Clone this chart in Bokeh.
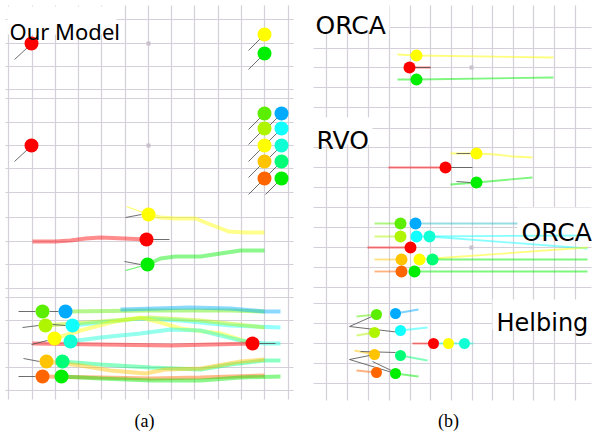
from bokeh.plotting import figure
from bokeh.models import Range1d
from bokeh.embed import file_html
from bokeh.resources import INLINE
from bokeh.core.properties import value

# ---------------- colours ----------------
RED, YELLOW, GREEN = "#ff0000", "#ffff00", "#00ee00"
LIME, YGREEN, AMBER, ORANGE = "#5cee00", "#b0f500", "#ffc300", "#ff6600"
BLUE, CYAN, AQUA, SPRING = "#00aaff", "#11ffff", "#11ffd5", "#00ff77"

# ---------------- grids (screen-like coordinates) ----------------
grid_a_x = [8, 32, 55, 78, 101, 125, 148, 171, 194, 218, 241, 264, 288]
grid_a_y = [19, 43, 66, 89, 98, 122, 145, 168, 192, 217, 241, 264, 288, 297, 320, 343, 367, 390]
grid_a_box = [5, 293, 5, 399]
grid_b_x = [326, 347, 368, 389, 410, 430, 451, 472, 492, 513, 533, 554, 575]
grid_b_y = [27, 48, 67, 87, 107, 128, 147, 167, 187, 207, 227, 247, 267, 287, 303, 323, 343, 363, 383]
grid_b_box = [313, 591, 5, 400]
center_dots_x = [148, 148, 471, 471]
center_dots_y = [43, 145, 67, 247]

# ---------------- agents ----------------
a1_x = [31, 264, 264]
a1_y = [43, 34, 53]
a1_c = [RED, YELLOW, GREEN]
a2_x = [31, 264, 264, 264, 264, 264, 281, 281, 281, 281, 281]
a2_y = [145, 113, 128, 145, 161, 178, 113, 128, 145, 161, 178]
a2_c = [RED, LIME, YGREEN, YELLOW, AMBER, ORANGE, BLUE, CYAN, AQUA, SPRING, GREEN]
a3_x = [148, 146, 147]
a3_y = [214, 239, 264]
a3_c = [YELLOW, RED, GREEN]
a4_x = [42, 65, 45, 72, 54, 70, 46, 62, 42, 61, 252]
a4_y = [311, 311, 325, 325, 338, 341, 361, 361, 376, 376, 343]
a4_c = [LIME, BLUE, YGREEN, CYAN, YELLOW, AQUA, AMBER, SPRING, ORANGE, GREEN, RED]

b1_x = [416, 409, 416]
b1_y = [55, 67, 79]
b1_c = [YELLOW, RED, GREEN]
b2_x = [476, 445, 476]
b2_y = [153, 167, 182]
b2_c = [YELLOW, RED, GREEN]
b3_x = [400, 415, 400, 416, 429, 410, 401, 419, 432, 401, 414]
b3_y = [223, 223, 236, 236, 236, 247, 259, 259, 259, 271, 271]
b3_c = [LIME, BLUE, YGREEN, CYAN, AQUA, RED, AMBER, YELLOW, SPRING, ORANGE, GREEN]
b4_x = [376, 395, 374, 400, 433, 448, 464, 374, 400, 376, 395]
b4_y = [314, 313, 332, 330, 343, 343, 343, 354, 355, 372, 373]
b4_c = [LIME, BLUE, YGREEN, CYAN, RED, YELLOW, AQUA, AMBER, SPRING, ORANGE, GREEN]

# ---------------- trajectories ----------------
a3_tr_x = [[32, 55, 70, 85, 100, 124, 146],
           [148, 160, 175, 195, 210, 228, 245, 264],
           [147, 160, 175, 200, 220, 240, 264]]
a3_tr_y = [[241, 241, 240, 238, 237, 238, 239],
           [214, 217, 218, 218, 224, 231, 232, 232],
           [264, 258, 256, 256, 253, 250, 250]]
a3_tr_c = [RED, YELLOW, GREEN]

a4_tr_x = [[65, 150, 230, 264], [120, 190, 230, 264, 280],
           [72, 100, 140, 180, 230, 280], [45, 100, 150, 200, 264],
           [54, 80, 110, 140, 160, 180, 220, 252],
           [70, 100, 140, 170, 200, 240, 264, 280], [32, 100, 170, 252],
           [62, 100, 150, 200, 230, 264, 280],
           [46, 80, 110, 145, 165, 200, 240, 264],
           [42, 100, 150, 200, 264], [61, 100, 150, 200, 240, 280]]
a4_tr_y = [[311, 310, 310, 311], [309, 307, 308, 311, 311],
           [325, 322, 318, 320, 325, 327], [325, 321, 317, 320, 327],
           [338, 330, 322, 317, 322, 328, 333, 343],
           [341, 337, 333, 329, 330, 340, 343, 343], [343, 344, 345, 343],
           [361, 364, 367, 369, 364, 360, 360],
           [361, 365, 370, 373, 369, 368, 361, 359],
           [376, 377, 378, 377, 375], [376, 378, 380, 380, 377, 376]]
a4_tr_c = [LIME, BLUE, CYAN, YGREEN, YELLOW, AQUA, RED, SPRING, AMBER, ORANGE, GREEN]

b_tr_x = [[397, 416, 553], [397, 416, 553], [409, 430],
          [388, 445], [450, 476, 495, 513, 532], [450, 476, 532],
          [374, 400], [415, 517], [374, 400], [416, 587], [429, 587],
          [367, 410], [374, 401], [419, 587], [432, 587], [374, 401], [414, 587],
          [356, 376], [395, 418], [356, 374], [400, 427], [412, 433], [433, 473],
          [354, 374], [400, 427], [356, 376], [395, 418]]
b_tr_y = [[54, 55, 57], [79, 79, 77], [67, 67],
          [167, 167], [153, 153, 154, 156, 157], [184, 182, 177],
          [223, 223], [223, 223], [236, 236], [236, 235], [236, 248],
          [247, 247], [259, 259], [259, 247], [259, 259], [271, 271], [271, 271],
          [316, 314], [313, 309], [335, 332], [330, 327], [343, 343], [343, 343],
          [350, 354], [355, 360], [370, 372], [373, 376]]
b_tr_c = [YELLOW, GREEN, RED,
          RED, YELLOW, GREEN,
          LIME, "#33bbcc", YGREEN, CYAN, CYAN,
          RED, AMBER, YELLOW, GREEN, ORANGE, GREEN,
          LIME, BLUE, YGREEN, CYAN, RED, AQUA,
          AMBER, SPRING, ORANGE, GREEN]

# heading / sensor lines (dark)
hd_x0 = [27, 260, 260, 27, 260, 260, 260, 260, 260, 277, 277, 277, 277, 277,
         125, 124, 146, 18, 49, 22, 52, 31, 23, 18, 259,
         430, 456, 456, 445, 349, 349, 349, 349, 360, 372]
hd_y0 = [47, 38, 57, 149, 117, 132, 149, 165, 182, 117, 132, 149, 165, 182,
         217, 261, 239, 311, 311, 327, 324, 344, 358, 376, 343,
         67, 153, 181, 167, 326, 326, 359, 359, 351, 361]
hd_x1 = [14, 248, 248, 14, 248, 248, 248, 248, 248, 265, 265, 265, 265, 265,
         141, 140, 169, 35, 58, 38, 65, 47, 39, 35, 275,
         409, 470, 470, 472, 376, 400, 374, 395, 395, 395]
hd_y1 = [59, 50, 69, 161, 129, 144, 161, 177, 194, 129, 144, 161, 177, 194,
         214, 264, 239, 311, 311, 325, 325, 340, 361, 376, 343,
         67, 153, 182, 167, 314, 332, 354, 373, 352, 372]

# ---------------- labels ----------------
titles = ["Our Model", "ORCA", "RVO", "ORCA", "Helbing"]
titles_x = [9, 315, 316, 521, 496]
titles_y = [30, 25, 140, 232, 322]
titles_font = ["Noto Sans", "DejaVu Sans", "DejaVu Sans", "DejaVu Sans", "DejaVu Sans"]
titles_size = ["22px", "25px", "25px", "25px", "24px"]
title_box_l = [7, 313, 313, 517, 492]
title_box_r = [116, 389, 372, 593, 593]
title_box_t = [6, 4, 117, 207, 299]
title_box_b = [34, 30, 144, 237, 329]
captions = ["(a)", "(b)"]
captions_x = [144, 448]
captions_y = [420, 420]

# ---------------- figure ----------------
p = figure(width=595, height=434, output_backend="svg", toolbar_location=None,
           x_range=Range1d(0, 595), y_range=Range1d(434, 0),
           min_border=0, background_fill_color="white", border_fill_color="white")
p.axis.visible = False
p.grid.visible = False
p.outline_line_color = None

GRID_C = "#d5cfd9"
for gx, gy, box in [(grid_a_x, grid_a_y, grid_a_box), (grid_b_x, grid_b_y, grid_b_box)]:
    p.segment(x0=gx, y0=[box[2]] * len(gx), x1=gx, y1=[box[3]] * len(gx),
              line_color=GRID_C, line_width=1.2)
    p.segment(x0=[box[0]] * len(gy), y0=gy, x1=[box[1]] * len(gy), y1=gy,
              line_color=GRID_C, line_width=1.2)
p.scatter(center_dots_x, center_dots_y, size=4, marker="square",
          color="#c8c0cc", line_color=None)

# label backgrounds
p.quad(left=title_box_l, right=title_box_r, top=title_box_t, bottom=title_box_b,
       fill_color="white", line_color=None)

# trajectories
p.multi_line(a3_tr_x, a3_tr_y, line_color=a3_tr_c, line_width=4, line_alpha=0.45)
p.multi_line(a4_tr_x, a4_tr_y, line_color=a4_tr_c, line_width=4, line_alpha=0.45)
p.multi_line([[126, 148], [125, 147]], [[206, 214], [270, 264]],
             line_color=[YELLOW, GREEN], line_width=1.2, line_alpha=0.6)
p.multi_line(b_tr_x, b_tr_y, line_color=b_tr_c, line_width=1.8, line_alpha=0.5)

# heading lines
p.segment(x0=hd_x0, y0=hd_y0, x1=hd_x1, y1=hd_y1, line_color="#555555",
          line_width=1, line_alpha=0.85)

# agents
for xs, ys, cs, r in [(a1_x, a1_y, a1_c, 7), (a2_x, a2_y, a2_c, 7),
                      (a3_x, a3_y, a3_c, 7), (a4_x, a4_y, a4_c, 7),
                      (b1_x, b1_y, b1_c, 6), (b2_x, b2_y, b2_c, 6),
                      (b3_x, b3_y, b3_c, 6), (b4_x, b4_y, b4_c, 5.5)]:
    p.circle(x=xs, y=ys, radius=r, fill_color=cs, line_color=None)

# titles
for t, x, y, f, s in zip(titles, titles_x, titles_y, titles_font, titles_size):
    p.text(x=[x], y=[y], text=[t], text_font=value(f), text_font_size=s,
           text_color="black", text_baseline="alphabetic", text_align="left")
p.text(x=captions_x, y=captions_y, text=captions, text_font=value("Liberation Serif"),
       text_font_size="18px", text_color="black", text_baseline="alphabetic",
       text_align="center")

open("out.html", "w").write(file_html(p, INLINE))
